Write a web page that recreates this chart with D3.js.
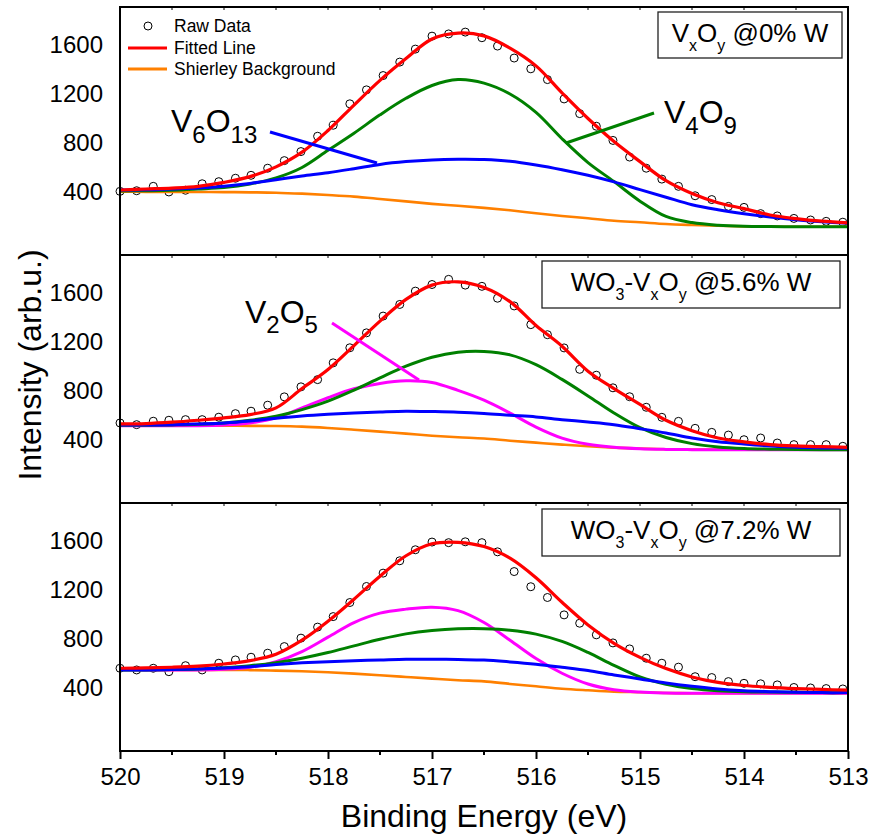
<!DOCTYPE html>
<html>
<head>
<meta charset="utf-8">
<script src="https://cdn.jsdelivr.net/npm/d3@7"></script>
<style>
  body { margin: 0; background: #fff; }
  text { font-family: Arial, "Liberation Sans", sans-serif; fill: #000; }
</style>
</head>
<body>
<svg id="chart" width="873" height="839"></svg>
<script>
// binding energy of the raw data points (eV)
const energyRaw = [520.00, 519.84, 519.68, 519.53, 519.37, 519.21, 519.05, 518.89, 518.74, 518.58,
  518.42, 518.26, 518.10, 517.95, 517.79, 517.63, 517.47, 517.31, 517.16, 517.00,
  516.84, 516.68, 516.52, 516.37, 516.21, 516.05, 515.89, 515.73, 515.58, 515.42,
  515.26, 515.10, 514.94, 514.79, 514.63, 514.47, 514.31, 514.15, 514.00, 513.84,
  513.68, 513.52, 513.36, 513.21, 513.05];
const energyFit = [520, 519.75, 519.5, 519.25, 519, 518.75, 518.5, 518.25, 518, 517.75,
  517.5, 517.25, 517, 516.75, 516.5, 516.25, 516, 515.75, 515.5, 515.25,
  515, 514.75, 514.5, 514.25, 514, 513.75, 513.5, 513.25, 513];

// panel 1 : VxOy @0% W
const raw0 = [405, 410, 446, 400, 414, 467, 484, 512, 536, 594, 656, 730, 855, 945, 1120, 1234, 1351, 1461, 1567, 1673,
  1691, 1706, 1660, 1592, 1494, 1406, 1318, 1160, 1040, 937, 821, 685, 594, 505, 446, 369, 338, 282, 274, 223,
  204, 184, 171, 160, 153];
const fit0 = [416, 424, 432, 446, 478, 525, 605, 725, 902, 1110, 1312, 1490, 1650, 1698, 1675, 1575, 1430, 1210, 1000, 812,
  648, 492, 387, 312, 264, 212, 182, 161, 148];
const bg0 = [402, 401, 400, 400, 399, 397, 394, 386, 375, 362, 343, 323, 303, 287, 270, 250, 226, 204, 185, 165,
  152, 138, 130, 124, 119, 117, 116, 116, 116];
const v6o13_0 = [416, 418, 425, 433, 447, 470, 500, 530, 557, 590, 625, 648, 662, 667, 665, 651, 621, 582, 536, 482,
  419, 357, 296, 255, 222, 195, 173, 157, 144];
const v4o9_0 = [408, 410, 414, 424, 436, 465, 515, 600, 740, 880, 1030, 1165, 1270, 1318, 1289, 1200, 1050, 835, 640, 485,
  325, 200, 150, 128, 119, 117, 116, 116, 116];

// panel 2 : WO3-VxOy @5.6% W
const raw1 = [539, 525, 553, 561, 566, 566, 586, 615, 635, 684, 752, 834, 893, 1030, 1153, 1275, 1412, 1507, 1616, 1670,
  1712, 1665, 1655, 1558, 1495, 1342, 1260, 1152, 977, 929, 826, 753, 667, 585, 552, 495, 462, 440, 402, 416,
  375, 362, 362, 362, 348];
const fit1 = [531, 534, 545, 561, 580, 607, 662, 820, 975, 1171, 1371, 1548, 1665, 1692, 1646, 1530, 1335, 1166, 962, 820,
  690, 561, 476, 416, 384, 362, 351, 345, 340];
const bg1 = [517, 517, 517, 517, 516, 515, 514, 509, 498, 484, 468, 452, 435, 422, 412, 394, 378, 362, 348, 337,
  329, 324, 322, 321, 321, 321, 321, 321, 321];
const v6o13_1 = [523, 523, 525, 531, 539, 555, 577, 596, 610, 621, 629, 635, 632, 627, 617, 602, 588, 566, 547, 525,
  492, 457, 416, 386, 367, 351, 340, 335, 332];
const v4o9_1 = [520, 520, 523, 528, 539, 561, 594, 648, 717, 807, 907, 1003, 1076, 1117, 1123, 1095, 1015, 895, 760, 620,
  500, 420, 370, 343, 330, 325, 322, 321, 321];
const v2o5_1 = [517, 517, 517, 517, 523, 539, 580, 662, 745, 818, 862, 883, 870, 805, 725, 620, 505, 415, 365, 340,
  328, 323, 321, 321, 321, 321, 321, 321, 321];

// panel 3 : WO3-VxOy @7.2% W
const raw2 = [561, 547, 561, 533, 582, 547, 602, 629, 651, 684, 738, 807, 897, 983, 1098, 1229, 1338, 1439, 1529, 1592,
  1587, 1594, 1587, 1512, 1351, 1227, 1139, 997, 929, 834, 768, 719, 643, 602, 570, 492, 485, 452, 438, 434,
  425, 404, 400, 395, 392];
const fit2 = [561, 564, 569, 578, 596, 623, 675, 790, 945, 1125, 1313, 1480, 1578, 1590, 1555, 1460, 1300, 1100, 915, 765,
  650, 558, 490, 445, 420, 405, 395, 388, 382];
const bg2 = [547, 547, 547, 547, 547, 546, 542, 536, 528, 517, 504, 490, 476, 463, 454, 433, 414, 394, 381, 370,
  365, 359, 357, 357, 357, 357, 357, 357, 357];
const v6o13_2 = [547, 547, 550, 555, 563, 574, 591, 605, 615, 623, 629, 635, 635, 632, 628, 613, 594, 569, 542, 506,
  474, 441, 414, 392, 378, 370, 364, 362, 362];
const v4o9_2 = [547, 547, 550, 555, 566, 582, 607, 643, 689, 744, 798, 842, 869, 883, 884, 872, 840, 780, 690, 585,
  490, 430, 396, 378, 370, 367, 364, 362, 362];
const v2o5_2 = [550, 547, 547, 547, 553, 569, 615, 697, 815, 934, 1011, 1044, 1060, 1032, 935, 790, 640, 520, 432, 385,
  366, 359, 357, 357, 357, 357, 357, 357, 357];

const xTicks = [520, 519, 518, 517, 516, 515, 514, 513];
const xMinor = [519.5, 518.5, 517.5, 516.5, 515.5, 514.5, 513.5];
const yTicks = [400, 800, 1200, 1600];

const panels = [
  {raw: raw0, fit: fit0, bg: bg0, v6o13: v6o13_0, v4o9: v4o9_0, v2o5: null,
   label: [['V'], ['x', 1], ['O'], ['y', 1], [' @0% W']]},
  {raw: raw1, fit: fit1, bg: bg1, v6o13: v6o13_1, v4o9: v4o9_1, v2o5: v2o5_1,
   label: [['WO'], ['3', 1], ['-V'], ['x', 1], ['O'], ['y', 1], [' @5.6% W']]},
  {raw: raw2, fit: fit2, bg: bg2, v6o13: v6o13_2, v4o9: v4o9_2, v2o5: v2o5_2,
   label: [['WO'], ['3', 1], ['-V'], ['x', 1], ['O'], ['y', 1], [' @7.2% W']]}
];

const colors = {fit: '#ff0000', bg: '#ff8000', v6o13: '#0000ff', v4o9: '#008000', v2o5: '#ff00ff'};

const left = 120, right = 848, panelH = 248;
const tops = [7, 255, 503];
const svg = d3.select('#chart');

const x = d3.scaleLinear().domain([520, 513]).range([left, right]);

// writes text with subscripts into a text element
function formula(textSel, parts, subSize, shift) {
  let down = false;
  parts.forEach(([t, sub]) => {
    const ts = textSel.append('tspan').text(t);
    if (sub && !down) { ts.attr('dy', shift); down = true; }
    else if (!sub && down) { ts.attr('dy', -shift); down = false; }
    if (sub) ts.attr('font-size', subSize);
  });
}

panels.forEach((p, i) => {
  const top = tops[i];
  const y = d3.scaleLinear().domain([-115, 1911]).range([top + panelH, top]);
  const g = svg.append('g');

  const line = d3.line()
    .curve(d3.curveCatmullRom.alpha(0.5))
    .x((d, k) => x(energyFit[k]))
    .y(d => y(d));

  // raw data circles
  g.append('g').selectAll('circle')
    .data(p.raw)
    .enter()
    .append('circle')
    .attr('cx', (d, k) => x(energyRaw[k]))
    .attr('cy', d => y(d))
    .attr('r', 4)
    .attr('fill', 'none')
    .attr('stroke', '#000')
    .attr('stroke-width', 1);

  // components, background and fit
  const order = ['bg', 'v2o5', 'v4o9', 'v6o13', 'fit'];
  order.forEach(key => {
    if (!p[key]) return;
    g.append('path')
      .attr('d', line(p[key]))
      .attr('fill', 'none')
      .attr('stroke', colors[key])
      .attr('stroke-width', key === 'fit' ? 3.2 : (key === 'bg' ? 2.6 : 3))
      .attr('stroke-linejoin', 'round');
  });

  // y axis labels
  const yAxis = d3.axisLeft(y).tickValues(yTicks).tickSize(0).tickPadding(17).tickFormat(d3.format('d'));
  const ya = g.append('g').attr('transform', `translate(${left},0)`).call(yAxis);
  ya.select('.domain').remove();
  ya.selectAll('text').attr('font-size', 24).attr('font-family', 'Arial, "Liberation Sans", sans-serif');

  // small inward ticks on top edge
  g.append('g').selectAll('line')
    .data(xTicks.concat(xMinor))
    .enter()
    .append('line')
    .attr('x1', d => x(d)).attr('x2', d => x(d))
    .attr('y1', top).attr('y2', top + 3)
    .attr('stroke', '#000').attr('stroke-width', 1);

  // frame
  g.append('rect')
    .attr('x', left).attr('y', top)
    .attr('width', right - left).attr('height', panelH)
    .attr('fill', 'none').attr('stroke', '#000').attr('stroke-width', 2);

  // sample label box
  const box = i === 0 ? {x: 658, y: 12, w: 184, h: 46} : {x: 542, y: top + 6, w: 298, h: 47};
  g.append('rect')
    .attr('x', box.x).attr('y', box.y).attr('width', box.w).attr('height', box.h)
    .attr('fill', '#fff').attr('stroke', '#222').attr('stroke-width', 1.3);
  const bt = g.append('text')
    .attr('x', box.x + box.w / 2).attr('y', box.y + 30)
    .attr('text-anchor', 'middle')
    .attr('font-size', 26)
    .style('white-space', 'pre');
  formula(bt, p.label, 16, 9);

  // bottom axis only on last panel
  if (i === 2) {
    const xAxis = d3.axisBottom(x).tickValues(xTicks).tickSize(8).tickPadding(9).tickFormat(d3.format('d'));
    const xa = svg.append('g').attr('transform', `translate(0,${top + panelH})`).call(xAxis);
    xa.select('.domain').remove();
    xa.selectAll('line').attr('stroke-width', 2);
    xa.selectAll('text').attr('font-size', 24).attr('font-family', 'Arial, "Liberation Sans", sans-serif');
    svg.append('g').selectAll('line')
      .data(xMinor)
      .enter()
      .append('line')
      .attr('x1', d => x(d)).attr('x2', d => x(d))
      .attr('y1', top + panelH).attr('y2', top + panelH + 4)
      .attr('stroke', '#000').attr('stroke-width', 2);
  }
});

// legend (panel 1)
const lg = svg.append('g').attr('font-size', 17.5);
lg.append('circle').attr('cx', 148).attr('cy', 26).attr('r', 4).attr('fill', 'none').attr('stroke', '#000');
lg.append('text').attr('x', 174).attr('y', 32).text('Raw Data');
lg.append('line').attr('x1', 128).attr('x2', 167).attr('y1', 48).attr('y2', 48)
  .attr('stroke', colors.fit).attr('stroke-width', 3.2);
lg.append('text').attr('x', 174).attr('y', 54).text('Fitted Line');
lg.append('line').attr('x1', 128).attr('x2', 167).attr('y1', 69).attr('y2', 69)
  .attr('stroke', colors.bg).attr('stroke-width', 3);
lg.append('text').attr('x', 174).attr('y', 75).text('Shierley Background');

// component annotations
const notes = [
  {parts: [['V'], ['6', 1], ['O'], ['13', 1]], tx: 171, ty: 132, line: [270, 132, 377, 163], color: colors.v6o13},
  {parts: [['V'], ['4', 1], ['O'], ['9', 1]], tx: 664, ty: 123, line: [654, 113, 566, 143], color: colors.v4o9},
  {parts: [['V'], ['2', 1], ['O'], ['5', 1]], tx: 245, ty: 322.5, line: [332, 323, 419, 380], color: colors.v2o5}
];
notes.forEach(n => {
  svg.append('line')
    .attr('x1', n.line[0]).attr('y1', n.line[1]).attr('x2', n.line[2]).attr('y2', n.line[3])
    .attr('stroke', n.color).attr('stroke-width', 3);
  const t = svg.append('text').attr('x', n.tx).attr('y', n.ty).attr('font-size', 32);
  formula(t, n.parts, 24, 10.5);
});

// axis titles
svg.append('text')
  .attr('x', 484).attr('y', 827)
  .attr('text-anchor', 'middle')
  .attr('font-size', 32)
  .text('Binding Energy (eV)');
svg.append('text')
  .attr('transform', 'translate(41,365) rotate(-90)')
  .attr('text-anchor', 'middle')
  .attr('font-size', 32)
  .text('Intensity (arb.u.)');
</script>
</body>
</html>
